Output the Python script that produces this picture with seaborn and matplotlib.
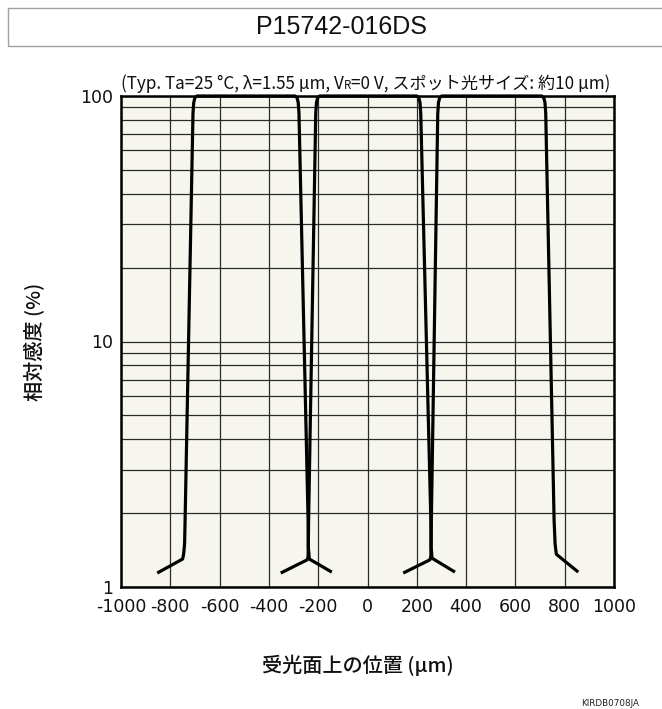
import numpy as np
import pandas as pd
import matplotlib
matplotlib.use("Agg")
import matplotlib.pyplot as plt
import seaborn as sns
from matplotlib.offsetbox import TextArea, HPacker, AnchoredOffsetbox
from matplotlib.patches import Rectangle
from matplotlib.ticker import NullFormatter
import logging
logging.getLogger("matplotlib.font_manager").setLevel(logging.ERROR)

# ---------------- data ----------------
title = "P15742-016DS"
cond_main = "(Typ. Ta=25 °C, λ=1.55 µm, V"
cond_sub = "R"
cond_tail = "=0 V, スポット光サイズ: 約10 µm)"
xlabel = "受光面上の位置 (µm)"
ylabel = "相対感度 (%)"
doc_code = "KIRDB0708JA"

x_ticks = [-1000, -800, -600, -400, -200, 0, 200, 400, 600, 800, 1000]
x_ticklabels = ["-1000", "-800", "-600", "-400", "-200", "0", "200", "400", "600", "800", "1000"]
y_ticks = [1, 10, 100]
y_ticklabels = ["1", "10", "100"]
y_minor = [2, 3, 4, 5, 6, 7, 8, 9, 20, 30, 40, 50, 60, 70, 80, 90]

# element 1 (left)
elem1_x = [-853, -750, -746, -742, -740, -708, -705, -700, -692,
           -294, -286, -281, -278, -241, -240, -236, -145]
elem1_y = [1.14, 1.30, 1.36, 1.50, 1.87, 85, 94, 98.5, 100,
           100, 98.5, 94, 85, 1.87, 1.45, 1.30, 1.15]
# element 2 (center)
elem2_x = [-352, -245, -241, -240, -239, -210, -207, -202, -194,
           200, 208, 213, 216, 257, 258, 262, 355]
elem2_y = [1.14, 1.29, 1.33, 1.50, 1.87, 85, 94, 98.5, 100,
           100, 98.5, 94, 85, 1.87, 1.45, 1.31, 1.15]
# element 3 (right)
elem3_x = [145, 253, 257, 258, 259, 285, 288, 293, 301,
           707, 715, 720, 723, 757, 761, 766, 855]
elem3_y = [1.14, 1.29, 1.33, 1.50, 1.87, 85, 94, 98.5, 100,
           100, 98.5, 94, 85, 1.87, 1.50, 1.36, 1.15]

df = pd.concat([
    pd.DataFrame({"pos": elem1_x, "resp": elem1_y, "element": "1"}),
    pd.DataFrame({"pos": elem2_x, "resp": elem2_y, "element": "2"}),
    pd.DataFrame({"pos": elem3_x, "resp": elem3_y, "element": "3"}),
], ignore_index=True)

# ---------------- style ----------------
sns.set_theme(style="white")
plt.rcParams["font.family"] = ["DejaVu Sans"]
cjk = ["Noto Sans CJK JP", "DejaVu Sans"]
cond_fam = ["Liberation Sans Narrow", "Noto Sans CJK JP", "DejaVu Sans"]

W, H = 662, 709
fig = plt.figure(figsize=(W / 100, H / 100), dpi=100)
fig.patch.set_facecolor("white")

L, R, T, B = 121, 614, 96, 587
ax = fig.add_axes([L / W, 1 - B / H, (R - L) / W, (B - T) / H])
ax.set_facecolor("#F7F6EE")
ax.set_yscale("log")

sns.lineplot(data=df, x="pos", y="resp", units="element", estimator=None,
             sort=False, color="black", linewidth=2.3, legend=False, ax=ax)
for ln in ax.lines:
    ln.set_clip_on(False)
    ln.set_solid_joinstyle("round")
    ln.set_solid_capstyle("butt")
    ln.set_zorder(5)

ax.set_xlim(-1000, 1000)
ax.set_ylim(1, 100)
ax.set_xticks(x_ticks)
ax.set_xticklabels(x_ticklabels)
ax.set_yticks(y_ticks)
ax.set_yticklabels(y_ticklabels)
ax.set_yticks(y_minor, minor=True)
ax.yaxis.set_minor_formatter(NullFormatter())
ax.set_axisbelow(True)
ax.grid(True, axis="x", which="major", color="#2a2a2a", linewidth=0.9)
ax.grid(True, axis="y", which="both", color="#2a2a2a", linewidth=0.9)
ax.tick_params(axis="both", which="both", length=0)
ax.tick_params(axis="x", pad=8, labelsize=12.5, colors="#111")
ax.tick_params(axis="y", pad=6, labelsize=12.5, colors="#111")
for s in ax.spines.values():
    s.set_visible(True)
    s.set_color("black")
    s.set_linewidth(1.8)
    s.set_zorder(6)
ax.set_xlabel("")
ax.set_ylabel("")

# axis labels
fig.text(358 / W, 1 - 665 / H, xlabel, ha="center", va="center",
         fontsize=14.5, family=cjk, weight="medium", color="#111")
fig.text(35 / W, 1 - 342 / H, ylabel, ha="center", va="center", rotation=90,
         fontsize=14.5, family=cjk, weight="medium", color="#111")

# title box
fig.patches.append(Rectangle((8 / W, 1 - 46 / H), 700 / W, 38 / H,
                             transform=fig.transFigure, facecolor="none",
                             edgecolor="#a0a0a0", linewidth=1.0))
fig.text(341 / W, 1 - 27 / H, title, ha="center", va="center",
         fontsize=18, family=["Liberation Sans", "DejaVu Sans"], color="#111")

# condition line (fit to plot width)
fig.canvas.draw()
rend = fig.canvas.get_renderer()
probe = fig.text(0, 0, cond_main + cond_sub + cond_tail, fontsize=12, family=cond_fam)
wpx = probe.get_window_extent(rend).width
probe.remove()
fs = min(12 * 494 / wpx, 12.5)
pack = HPacker(children=[
    TextArea(cond_main, textprops=dict(fontsize=fs, family=cond_fam, color="#111")),
    TextArea(cond_sub, textprops=dict(fontsize=fs * 0.68, family=cond_fam, color="#111")),
    TextArea(cond_tail, textprops=dict(fontsize=fs, family=cond_fam, color="#111")),
], align="baseline", pad=0, sep=0)
box = AnchoredOffsetbox(loc="lower left", child=pack, pad=0, borderpad=0,
                        frameon=False, bbox_to_anchor=(L / W, 1 - 93 / H),
                        bbox_transform=fig.transFigure)
fig.add_artist(box)

fig.text(610 / W, 1 - 703 / H, doc_code, ha="center", va="center",
         fontsize=6.3, color="#222")

fig.savefig("out.png", dpi=100, facecolor="white")
